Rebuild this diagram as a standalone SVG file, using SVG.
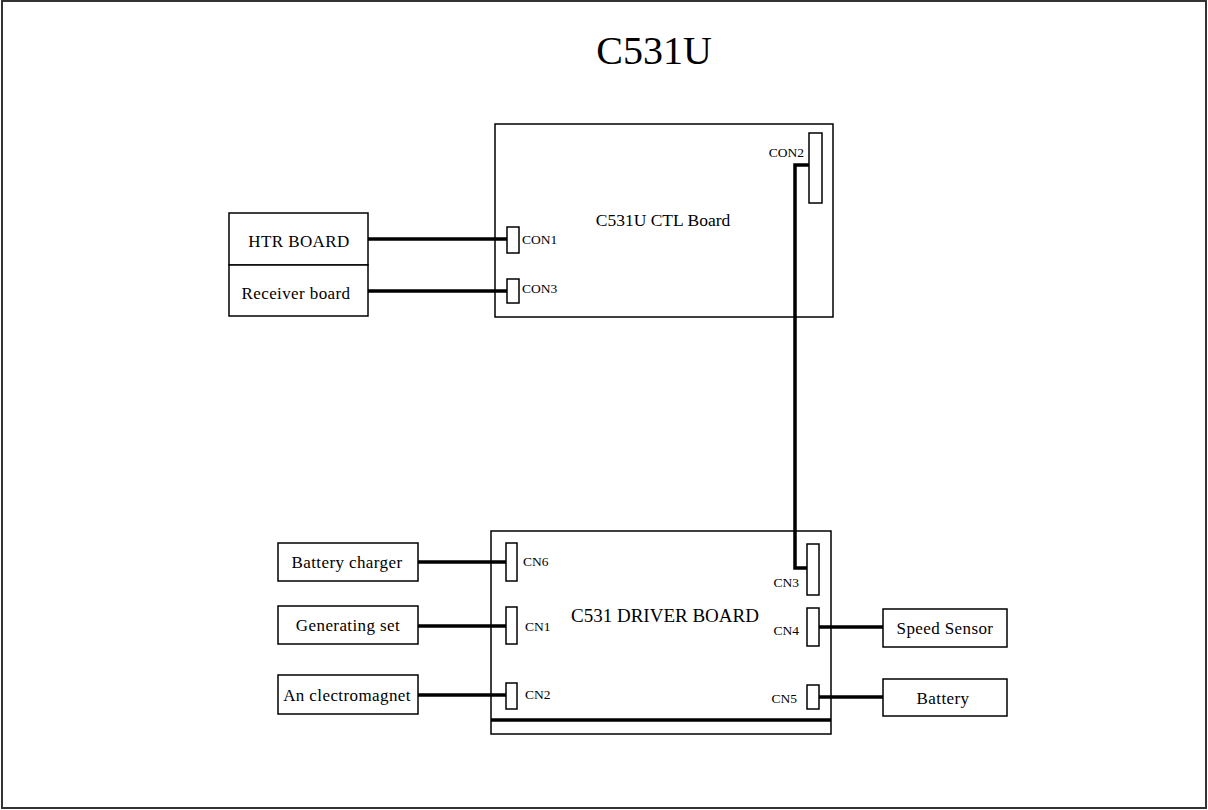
<svg xmlns="http://www.w3.org/2000/svg" width="1208" height="810" viewBox="0 0 1208 810">
<style>
.box{fill:#fff;stroke:#000;stroke-width:1.5}
.conn{fill:#fff;stroke:#000;stroke-width:1.5}
.wire{fill:none;stroke:#000;stroke-width:3.5}
text{font-family:"Liberation Serif","Times New Roman",serif;fill:#000}
.lbl{font-size:17px;letter-spacing:0.4px;text-anchor:middle}
.sm{font-size:13.5px}
</style>
<rect x="0" y="0" width="1208" height="810" fill="#fff"/>
<rect x="2" y="1" width="1204" height="807" fill="none" stroke="#333" stroke-width="2"/>
<text x="654" y="64" font-size="40" text-anchor="middle">C531U</text>

<g id="ctl-board">
<rect class="box" x="495" y="124" width="338" height="193"/>
<text x="663" y="226" font-size="17.5" text-anchor="middle">C531U CTL Board</text>
<rect class="conn" x="507" y="227" width="12" height="26"/>
<text class="sm" x="522" y="244">CON1</text>
<rect class="conn" x="507" y="279" width="12" height="24"/>
<text class="sm" x="522" y="293">CON3</text>
<rect class="conn" x="809" y="133" width="13" height="70"/>
<text class="sm" x="804" y="157" text-anchor="end">CON2</text>
</g>

<g id="htr-board">
<rect class="box" x="229" y="213" width="139" height="52"/>
<text class="lbl" x="299" y="247">HTR BOARD</text>
</g>
<g id="receiver-board">
<rect class="box" x="229" y="265" width="139" height="51"/>
<text class="lbl" x="296" y="299">Receiver board</text>
</g>

<g id="driver-board">
<rect class="box" x="491" y="531" width="340" height="203"/>
<line x1="491" y1="720" x2="831" y2="720" stroke="#000" stroke-width="3.5"/>
<text x="665" y="622" font-size="19" text-anchor="middle">C531 DRIVER BOARD</text>
<rect class="conn" x="506" y="543" width="11" height="38"/>
<text class="sm" x="523" y="566">CN6</text>
<rect class="conn" x="506" y="607" width="11" height="37"/>
<text class="sm" x="525" y="631">CN1</text>
<rect class="conn" x="506" y="683" width="11" height="26"/>
<text class="sm" x="525" y="699">CN2</text>
<rect class="conn" x="807" y="544" width="12" height="51"/>
<text class="sm" x="799" y="587" text-anchor="end">CN3</text>
<rect class="conn" x="807" y="608" width="12" height="38"/>
<text class="sm" x="799" y="635" text-anchor="end">CN4</text>
<rect class="conn" x="807" y="685" width="12" height="24"/>
<text class="sm" x="797" y="703" text-anchor="end">CN5</text>
</g>

<g id="battery-charger">
<rect class="box" x="278" y="543" width="140" height="38"/>
<text class="lbl" x="347" y="568">Battery charger</text>
</g>
<g id="generating-set">
<rect class="box" x="278" y="606" width="140" height="38"/>
<text class="lbl" x="348" y="631">Generating set</text>
</g>
<g id="electromagnet">
<rect class="box" x="278" y="675" width="140" height="39"/>
<text class="lbl" x="347" y="701">An clectromagnet</text>
</g>
<g id="speed-sensor">
<rect class="box" x="883" y="609" width="124" height="38"/>
<text class="lbl" x="945" y="634">Speed Sensor</text>
</g>
<g id="battery">
<rect class="box" x="883" y="679" width="124" height="37"/>
<text class="lbl" x="943" y="704">Battery</text>
</g>

<g id="connectors">
<line class="wire" x1="368" y1="239" x2="507" y2="239"/>
<line class="wire" x1="368" y1="291" x2="507" y2="291"/>
<polyline class="wire" points="809,165 795,165 795,568 807,568"/>
<line class="wire" x1="418" y1="562" x2="506" y2="562"/>
<line class="wire" x1="418" y1="626" x2="506" y2="626"/>
<line class="wire" x1="418" y1="695" x2="506" y2="695"/>
<line class="wire" x1="819" y1="627" x2="883" y2="627"/>
<line class="wire" x1="819" y1="697" x2="883" y2="697"/>
</g>
</svg>
